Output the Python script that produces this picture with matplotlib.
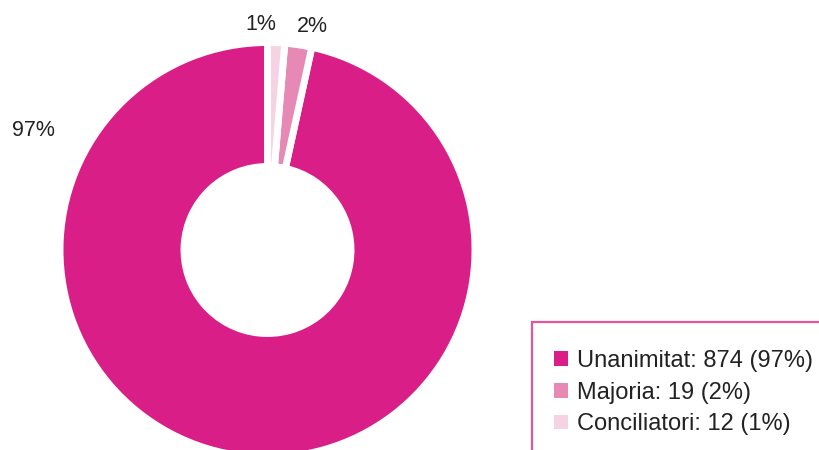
import matplotlib.pyplot as plt
from matplotlib.patches import Rectangle, Patch

# data
categories = ["Unanimitat", "Majoria", "Conciliatori"]
counts = [874, 19, 12]
pct_labels = ["97%", "2%", "1%"]
colors = ["#da1e87", "#e689b5", "#f6d3e2"]

# label text positions in pixel space (x from left, y from bottom)
label_xy = [(33, 320), (312, 424), (261, 425)]

plt.rcParams["font.family"] = ["Liberation Sans", "DejaVu Sans"]

fig = plt.figure(figsize=(8.2, 4.5), dpi=100)
ax = fig.add_axes([0, 0, 1, 1])

wedges, _ = ax.pie(
    counts,
    colors=colors,
    startangle=90,
    counterclock=True,
    center=(267.5, 200),
    radius=207.5,
    wedgeprops=dict(width=124, edgecolor="white", linewidth=5),
)
ax.set_xlim(0, 820)
ax.set_ylim(0, 450)
ax.set_aspect("equal")
ax.axis("off")

for txt, (x, y) in zip(pct_labels, label_xy):
    ax.text(x, y, txt, ha="center", va="center", fontsize=15.5, color="#222222")

# legend box, runs off the right and bottom edges
ax.add_patch(Rectangle((532, -20), 400, 148, facecolor="white",
                       edgecolor="#e0579b", linewidth=1.6, zorder=5))

handles = [Patch(facecolor=c, edgecolor="none") for c in colors]
texts = [f"{c}: {n} ({p})" for c, n, p in zip(categories, counts, pct_labels)]
leg = fig.legend(handles, texts, loc="upper left", bbox_to_anchor=(554 / 820, 1 - 350 / 450),
                 frameon=False, fontsize=17, handlelength=0.59, handleheight=0.59,
                 handletextpad=0.38, labelspacing=0.41, borderaxespad=0, borderpad=0)
for t in leg.get_texts():
    t.set_color("#222222")
leg.set_zorder(10)

fig.savefig("out.png", dpi=100)
